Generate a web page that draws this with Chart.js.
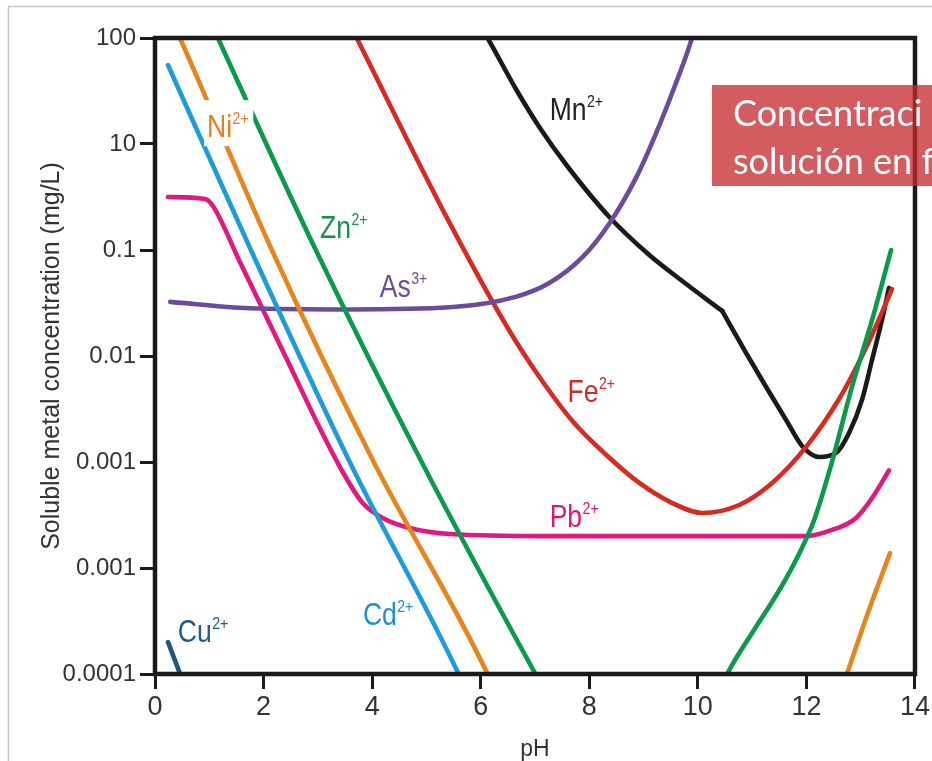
<!DOCTYPE html>
<html><head><meta charset="utf-8">
<script src="https://cdn.jsdelivr.net/npm/chart.js@4.4.1/dist/chart.umd.min.js"></script>
<style>html,body{margin:0;padding:0;background:#fff;overflow:hidden}canvas{display:block}</style>
</head><body>
<canvas id="c" width="932" height="761"></canvas>
<script>
// ---- axis ticks / titles ----
const xTicks = [0, 2, 4, 6, 8, 10, 12, 14];
const yTickValues = [0.0001, 0.001, 0.01, 0.1, 1, 10, 100];
const yTickLabels = ['0.0001', '0.001', '0.001', '0.01', '0.1', '10', '100'];
const xTitle = 'pH';
const yTitle = 'Soluble metal concentration (mg/L)';

// ---- series (pH, soluble concentration mg/L) ----
const cuPH = [0.24, 0.50];
const cuConc = [0.0002, 0.000089];

const cdPH = [0.239, 1.766, 3.587, 5.592, 5.648];
const cdConc = [55.6, 1, 0.01, 0.0001, 0.0000859];

const niPH = [0.368, 0.460, 2.152, 4.029, 6.126, 6.181];
const niConc = [127, 100, 1, 0.01, 0.0001, 0.0000859];
const niHighPH = [12.70, 13.15, 13.54];
const niHighConc = [0.000085, 0.0004, 0.00138];

const znPH = [1.067, 1.159, 2.962, 4.912, 7.009, 7.082];
const znConc = [127, 100, 1, 0.01, 0.0001, 0.0000859];
const znHighPH = [10.48, 10.54, 11.04, 11.50, 11.87, 12.14, 12.47, 12.84, 13.21, 13.56];
const znHighConc = [0.000085, 0.0001, 0.000263, 0.000617, 0.00138, 0.00282, 0.01, 0.0513, 0.219, 1.0];

const asPH = [0.28, 1.75, 3.59, 5.43, 6.66, 7.27, 7.87, 8.37, 8.87, 9.23, 9.60, 9.88, 9.93];
const asConc = [0.324, 0.282, 0.275, 0.288, 0.363, 0.49, 0.85, 1.78, 4.9, 12.6, 38, 95.5, 119];

const fePH = [3.679, 5.427, 6.531, 7.082, 7.689, 8.315, 8.922, 9.529, 10.081, 10.762, 11.369, 11.994, 12.601, 12.969, 13.282, 13.576];
const feConc = [109, 1.80, 0.172, 0.0634, 0.0244, 0.01164, 0.00634, 0.0041, 0.0033, 0.00393, 0.00634, 0.01387, 0.03926, 0.0877, 0.1919, 0.4285];

const mnPH = [6.071, 6.126, 6.659, 7.082, 7.579, 8.370, 9.106, 9.713, 10.449];
const mnConc = [111, 100, 32.3, 14.4, 6.34, 2.05, 0.897, 0.510, 0.266];
const mnHighPH = [10.449, 10.890, 11.258, 11.626, 11.921, 12.233, 12.546, 12.785, 13.024, 13.208, 13.392, 13.521];
const mnHighConc = [0.266, 0.1067, 0.0510, 0.0249, 0.01416, 0.01114, 0.01216, 0.01879, 0.0385, 0.0916, 0.2188, 0.4385];

const pbPH = [0.24, 0.920, 1.067, 1.564, 2.079, 2.575, 3.035, 3.458, 3.826, 4.194, 4.691, 5.427, 7.266, 11.99, 12.42, 12.91, 13.21, 13.52];
const pbConc = [3.16, 3.03, 2.60, 0.771, 0.219, 0.0648, 0.0209, 0.00805, 0.0041, 0.00296, 0.00238, 0.00209, 0.0020, 0.0020, 0.00224, 0.00295, 0.00457, 0.00832];

// ---- in-plot series labels ----
const labelText = ['Ni', 'Zn', 'As', 'Mn', 'Fe', 'Pb', 'Cd', 'Cu'];
const labelCharge = ['2+', '2+', '3+', '2+', '2+', '2+', '2+', '2+'];
const labelPH = [0.96, 3.04, 4.14, 7.27, 7.60, 7.27, 3.83, 0.42];
const labelConc = [11.6, 1.30, 0.36, 16.8, 0.0368, 0.00244, 0.00029, 0.0002];

const overlayLines = ['Concentraci', 'solución en f'];

// ---- styling ----
const C = {
  Cu: '#1c5687', Cd: '#1f9bd9', Ni: '#e8841d', Zn: '#0b9a4a', As: '#6c4b9e',
  Fe: '#d62a22', Mn: '#1a1a1a', Pb: '#e0197f'
};
const labelColor = { Ni: '#e2801f', Zn: '#0f9548', As: '#6d4c9a', Mn: '#222222', Fe: '#cf2b26', Pb: '#d8167f', Cd: '#1c90d2', Cu: '#1b5a8e' };
const SANS = '"Liberation Sans", Arial, Helvetica, sans-serif';

const pts = (xs, ys) => xs.map((x, i) => ({ x, y: ys[i] }));
const ds = (name, xs, ys) => ({
  label: name, data: pts(xs, ys), borderColor: C[name], borderWidth: 4.6,
  pointRadius: 0, fill: false, cubicInterpolationMode: 'monotone', borderCapStyle: 'round', borderJoinStyle: 'round'
});

const deco = {
  id: 'deco',
  beforeDraw(chart) {
    const c = chart.ctx;
    c.save();
    c.fillStyle = '#fff';
    c.fillRect(0, 0, chart.width, chart.height);
    c.strokeStyle = '#c6c6c6';
    c.lineWidth = 1.5;
    c.beginPath();
    c.moveTo(8.5, chart.height);
    c.lineTo(8.5, 6.5);
    c.lineTo(chart.width, 6.5);
    c.stroke();
    c.restore();
  },
  afterDatasetsDraw(chart) {
    const c = chart.ctx, xs = chart.scales.x, ys = chart.scales.y, a = chart.chartArea;
    const sx = 0.83;
    c.save();
    labelText.forEach((t, i) => {
      const x = xs.getPixelForValue(labelPH[i]);
      const y = ys.getPixelForValue(labelConc[i]);
      c.font = '32px ' + SANS;
      const w = c.measureText(t).width;
      c.font = '17px ' + SANS;
      const w2 = c.measureText(labelCharge[i]).width;
      if (t === 'Ni') {
        c.fillStyle = '#fff';
        c.fillRect(x - 3, y - 37, (w + w2) * sx + 8, 46);
      }
      c.save();
      c.translate(x, y);
      c.scale(sx, 1);
      c.fillStyle = labelColor[t];
      c.textBaseline = 'alphabetic';
      c.textAlign = 'left';
      c.font = '32px ' + SANS;
      c.fillText(t, 0, 0);
      c.font = '17px ' + SANS;
      c.fillText(labelCharge[i], w + 0.5, -13);
      c.restore();
    });
    c.strokeStyle = '#1a1a1a';
    c.lineWidth = 4.5;
    c.strokeRect(a.left, a.top, a.right - a.left, a.bottom - a.top);
    c.restore();
  },
  afterDraw(chart) {
    const c = chart.ctx;
    c.save();
    c.fillStyle = 'rgba(197,41,46,0.76)';
    c.fillRect(712, 85, chart.width - 712 + 10, 101);
    c.fillStyle = '#ffffff';
    c.font = '36px Lato, "Open Sans", sans-serif';
    c.textBaseline = 'alphabetic';
    c.fillText(overlayLines[0], 733, 126);
    c.fillText(overlayLines[1], 733, 174);
    c.restore();
  }
};

new Chart(document.getElementById('c'), {
  type: 'line',
  data: {
    datasets: [
      ds('Cd', cdPH, cdConc),
      ds('Ni', niPH, niConc),
      ds('Ni', niHighPH, niHighConc),
      ds('Zn', znPH, znConc),
      ds('Zn', znHighPH, znHighConc),
      ds('As', asPH, asConc),
      ds('Fe', fePH, feConc),
      ds('Mn', mnPH, mnConc),
      ds('Mn', mnHighPH, mnHighConc),
      ds('Pb', pbPH, pbConc),
      ds('Cu', cuPH, cuConc)
    ]
  },
  plugins: [deco],
  options: {
    responsive: false,
    animation: false,
    events: [],
    layout: { padding: { left: 0, top: 38, right: 16, bottom: 0 } },
    plugins: { legend: { display: false }, tooltip: { enabled: false } },
    scales: {
      x: {
        type: 'linear', min: 0, max: 14,
        afterBuildTicks: s => { s.ticks = xTicks.map(v => ({ value: v })); },
        ticks: { color: '#333', font: { family: SANS, size: 27 }, padding: 2, maxRotation: 0, autoSkip: false },
        grid: { drawOnChartArea: false, drawTicks: true, tickLength: 15, tickWidth: 3, tickColor: '#1a1a1a' },
        border: { display: false },
        title: { display: true, text: xTitle, color: '#333', font: { family: SANS, size: 23, lineHeight: 1 }, padding: { top: 1, bottom: 0 } },
        afterFit: s => { s.height = 87; }
      },
      y: {
        type: 'logarithmic', min: 0.0001, max: 100,
        afterBuildTicks: s => { s.ticks = yTickValues.map(v => ({ value: v })); },
        ticks: { callback: (v, i) => yTickLabels[i], color: '#333', font: { family: SANS, size: 24 }, padding: 4, autoSkip: false },
        grid: { drawOnChartArea: false, drawTicks: true, tickLength: 15, tickWidth: 3, tickColor: '#1a1a1a' },
        border: { display: false },
        title: { display: true, text: yTitle, color: '#333', font: { family: SANS, size: 25, lineHeight: 1 }, padding: { top: 40, bottom: 0 } },
        afterFit: s => { s.width = 155; }
      }
    }
  }
});
</script>
</body></html>
